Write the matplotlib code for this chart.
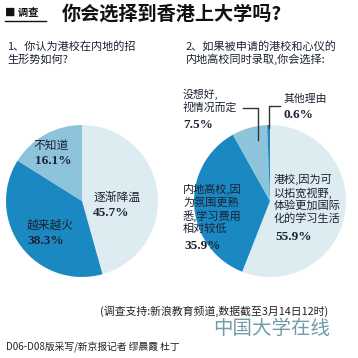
import matplotlib
matplotlib.use("Agg")
import matplotlib.pyplot as plt

plt.rcParams['font.family'] = ['Noto Sans CJK SC', 'DejaVu Sans']

# ---- data ----
q1_labels = ["逐渐降温", "越来越火", "不知道"]
q1_values = [45.7, 38.3, 16.1]
q2_labels = ["港校,因为可\n以拓宽视野,\n体验更加国际\n化的学习生活",
             "内地高校,因\n为氛围更熟\n悉,学习费用\n相对较低",
             "没想好,\n视情况而定",
             "其他理由"]
q2_values = [55.9, 35.9, 7.5, 0.6]

LIGHT = "#dcecf1"
MED = "#8dc4dc"
DARK = "#1a88c1"
q1_colors = [LIGHT, DARK, MED]
q2_colors = [LIGHT, DARK, MED, DARK]

W = H = 358
fig = plt.figure(figsize=(3.58, 3.58), dpi=100)
ax = fig.add_axes([0, 0, 1, 1])

def Y(y):
    return H - y

ax.pie(q1_values, colors=q1_colors, startangle=90, counterclock=False,
       center=(82, Y(201)), radius=76, wedgeprops=dict(linewidth=0))
ax.pie(q2_values, colors=q2_colors, startangle=90, counterclock=False,
       center=(270, Y(201)), radius=76, wedgeprops=dict(linewidth=0))
ax.set_xlim(0, W)
ax.set_ylim(0, H)
ax.set_aspect('equal')
ax.axis('off')

TXT = "#1c2233"

def T(x, y, s, size=8, **kw):
    kw.setdefault('color', TXT)
    kw.setdefault('va', 'center')
    kw.setdefault('ha', 'left')
    ax.text(x, Y(y), s, fontsize=size, **kw)

PCT = dict(family=['Liberation Serif', 'DejaVu Serif'], weight='bold')

# header
T(5, 13, "■ 调查", size=7.5, color="#111111", weight='bold')
ax.plot([5, 46], [Y(21), Y(21)], color="#111111", lw=1)
T(62, 14, "你会选择到香港上大学吗?", size=13.8, color="#111111", weight='bold')

# questions
T(7, 53, "1、你认为港校在内地的招\n生形势如何?", size=8, linespacing=1.25)
T(186, 53, "2、如果被申请的港校和心仪的\n内地高校同时录取,你会选择:", size=8, linespacing=1.25)

# left pie labels
T(93, 197, q1_labels[0], size=8.5)
T(93, 213, f"{q1_values[0]}%", size=9.5, **PCT)
T(27, 225, q1_labels[1], size=8.5)
T(27, 241, f"{q1_values[1]}%", size=9.5, **PCT)
T(33, 145, q1_labels[2], size=8.5)
T(35, 161, f"{q1_values[2]}%", size=9.5, **PCT)

# right pie labels
T(274, 199, q2_labels[0], size=8, linespacing=1.22)
T(275, 237, f"{q2_values[0]}%", size=9.5, **PCT)
T(183, 209, q2_labels[1], size=8, linespacing=1.22)
T(184, 246, f"{q2_values[1]}%", size=9.5, **PCT)
T(183, 101, q2_labels[2], size=7.8, linespacing=1.25)
T(183, 125, f"{q2_values[2]}%", size=9.5, **PCT)
T(283, 99, q2_labels[3], size=7.8)
T(283, 115, f"{q2_values[3]}%", size=9.5, **PCT)

# leader lines
ax.plot([243, 258, 258], [Y(108), Y(108), Y(140)], color="#333333", lw=1)
ax.plot([280, 269, 269], [Y(106), Y(106), Y(128)], color="#333333", lw=1)

# footer
T(100, 311, "(调查支持:新浪教育频道,数据截至3月14日12时)", size=7.8, color="#222222")
T(213, 328, "中国大学在线", size=14, color="#6f9ca8", weight='light')
T(6, 347, "D06-D08版采写/新京报记者 缪晨霞 杜丁", size=7, color="#222222")

fig.savefig("out.png", dpi=100, facecolor="white")
